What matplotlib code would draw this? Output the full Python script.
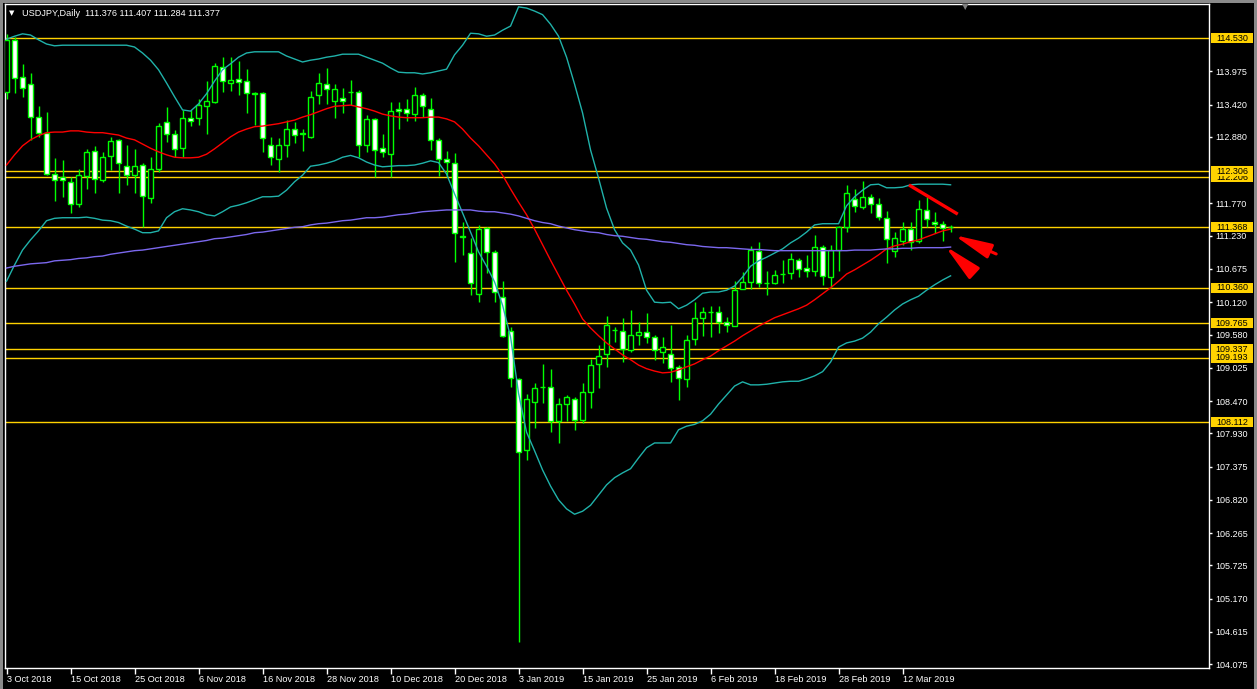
import matplotlib as mpl
mpl.use('Agg')

from matplotlib import pyplot as plt
from matplotlib.patches import Rectangle
import matplotlib.transforms as mtransforms
import numpy as np

plt.rcParams['font.family'] = ['Liberation Sans', 'DejaVu Sans']

# 日K資料 (USDJPY, 2018-10-03 起)
opens = [113.63, 114.49, 113.875, 113.757, 113.218, 112.95, 112.255, 112.21, 112.121, 111.754,
         112.232, 112.64, 112.166, 112.566, 112.828, 112.40, 112.238, 112.41, 111.854, 112.338,
         113.123, 112.923, 112.69, 113.19, 113.19, 113.40, 113.468, 114.052, 113.774, 113.84,
         113.808, 113.607, 113.607, 112.74, 112.505, 112.74, 113.017, 112.94, 112.884, 113.574,
         113.757, 113.479, 113.535, 113.63, 113.624, 112.745, 113.173, 112.69, 112.589, 113.34,
         113.34, 113.257, 113.58, 113.34, 112.828, 112.505, 112.44, 111.214, 110.936, 110.257,
         111.353, 110.953, 110.201, 109.645, 108.843, 107.652, 108.46, 108.71, 108.71, 108.137,
         108.415, 108.499, 108.153, 108.627, 109.083, 109.255, 109.656, 109.645, 109.317, 109.567,
         109.617, 109.534, 109.294, 109.25, 109.033, 108.832, 109.5, 109.85, 109.95, 109.96,
         109.795, 109.723, 110.346, 110.452, 110.98, 110.446, 110.435, 110.597, 110.602, 110.824,
         110.685, 110.635, 111.047, 110.546, 110.991, 111.381, 111.837, 111.715, 111.871, 111.754,
         111.52, 110.98, 111.142, 111.336, 111.142, 111.659, 111.453, 111.42, 111.376]
highs = [114.60, 114.54, 114.10, 113.94, 113.396, 113.29, 112.52, 112.494, 112.216, 112.34,
         112.68, 112.728, 112.633, 112.884, 112.85, 112.745, 112.672, 112.45, 112.55, 113.106,
         113.374, 112.995, 113.33, 113.33, 113.507, 113.819, 114.108, 114.22, 114.21, 114.152,
         114.008, 113.63, 113.635, 112.884, 112.856, 113.16, 113.134, 113.01, 113.646, 113.952,
         114.036, 113.763, 113.69, 113.83, 113.663, 113.245, 113.19, 112.928, 113.468, 113.468,
         113.513, 113.707, 113.607, 113.524, 112.856, 112.65, 112.605, 111.464, 111.186, 111.41,
         111.37, 110.99, 110.474, 109.71, 108.86, 108.588, 108.765, 109.088, 109.005, 108.515,
         108.571, 108.532, 108.765, 109.166, 109.405, 109.89, 109.712, 109.85, 109.99, 109.784,
         109.934, 109.573, 109.545, 109.74, 109.072, 109.573, 110.129, 110.034, 110.057, 110.057,
         109.878, 110.474, 110.63, 111.058, 111.12, 110.641, 110.657, 110.824, 110.947, 110.852,
         110.908, 111.242, 111.075, 111.075, 111.39, 112.077, 112.004, 112.143, 111.926, 111.854,
         111.643, 111.298, 111.464, 111.464, 111.826, 111.871, 111.631, 111.476, 111.407]
lows = [113.52, 113.62, 113.55, 112.83, 112.873, 112.244, 111.815, 111.88, 111.615, 111.715,
        112.005, 111.938, 112.132, 112.327, 111.949, 112.077, 111.938, 111.37, 111.77, 112.30,
        112.80, 112.55, 112.55, 113.06, 113.08, 112.928, 113.44, 113.635, 113.646, 113.574,
        113.284, 113.08, 112.633, 112.41, 112.30, 112.55, 112.772, 112.65, 112.856, 113.43,
        113.43, 113.19, 113.273, 113.41, 112.55, 112.633, 112.216, 112.55, 112.216, 113.006,
        113.145, 113.15, 113.218, 112.661, 112.227, 112.216, 110.797, 110.908, 110.24, 110.13,
        110.60, 110.13, 109.545, 108.70, 104.45, 107.485, 108.014, 108.432, 107.959, 107.764,
        108.142, 107.987, 108.109, 108.359, 108.682, 109.044, 109.461, 109.127, 109.294, 109.406,
        109.433, 109.155, 109.10, 108.794, 108.487, 108.71, 109.406, 109.562, 109.545, 109.60,
        109.628, 109.723, 110.34, 110.335, 110.38, 110.24, 110.43, 110.446, 110.507, 110.546,
        110.546, 110.557, 110.41, 110.351, 110.646, 111.298, 111.631, 111.676, 111.604, 111.492,
        110.769, 110.869, 111.075, 110.991, 111.114, 111.381, 111.27, 111.147, 111.284]
closes = [114.50, 113.86, 113.69, 113.207, 112.94, 112.255, 112.16, 112.155, 111.76, 112.238,
          112.62, 112.177, 112.54, 112.811, 112.438, 112.238, 112.389, 111.893, 112.338, 113.056,
          112.928, 112.672, 113.20, 113.15, 113.41, 113.474, 114.069, 113.819, 113.83, 113.79,
          113.607, 113.60, 112.856, 112.54, 112.74, 113.017, 112.906, 112.93, 113.552, 113.774,
          113.674, 113.674, 113.479, 113.63, 112.745, 113.173, 112.661, 112.633, 113.312, 113.312,
          113.273, 113.574, 113.396, 112.828, 112.505, 112.455, 111.27, 111.22, 110.435, 111.35,
          110.953, 110.296, 109.556, 108.86, 107.625, 108.499, 108.682, 108.71, 108.142, 108.415,
          108.532, 108.153, 108.627, 109.072, 109.228, 109.74, 109.656, 109.339, 109.567, 109.617,
          109.545, 109.322, 109.367, 109.016, 108.85, 109.489, 109.85, 109.951, 109.95, 109.795,
          109.74, 110.324, 110.452, 110.99, 110.435, 110.446, 110.574, 110.597, 110.836, 110.669,
          110.646, 111.047, 110.565, 110.991, 111.37, 111.937, 111.726, 111.871, 111.754, 111.548,
          111.17, 111.186, 111.336, 111.131, 111.67, 111.503, 111.42, 111.353, 111.377]

# 布林通道上下軌
bb_upper = [114.51, 114.56, 114.60, 114.58, 114.50, 114.43, 114.40, 114.41, 114.41, 114.41,
            114.41, 114.41, 114.41, 114.41, 114.41, 114.41, 114.38, 114.28, 114.16, 114.00,
            113.78, 113.55, 113.33, 113.31, 113.43, 113.60, 113.81, 114.00, 114.10, 114.21,
            114.28, 114.30, 114.30, 114.30, 114.30, 114.23, 114.18, 114.13, 114.16, 114.18,
            114.21, 114.23, 114.26, 114.26, 114.26, 114.21, 114.16, 114.11, 114.03, 113.96,
            113.95, 113.95, 113.93, 113.95, 113.98, 114.01, 114.25, 114.41, 114.61, 114.60,
            114.56, 114.58, 114.66, 114.73, 115.05, 115.03, 114.98, 114.92, 114.76, 114.56,
            114.21, 113.76, 113.28, 112.66, 112.19, 111.69, 111.33, 111.11, 110.99, 110.74,
            110.32, 110.12, 110.11, 110.12, 110.01, 110.07, 110.16, 110.27, 110.29, 110.29,
            110.32, 110.39, 110.54, 110.72, 110.81, 110.87, 110.94, 111.01, 111.11, 111.19,
            111.29, 111.41, 111.43, 111.43, 111.43, 111.73, 111.88, 111.99, 112.08, 112.09,
            112.03, 112.03, 112.04, 112.08, 112.09, 112.09, 112.09, 112.09, 112.08]
bb_lower = [110.47, 110.74, 110.99, 111.16, 111.31, 111.48, 111.52, 111.53, 111.53, 111.53,
            111.54, 111.52, 111.49, 111.48, 111.45, 111.39, 111.34, 111.28, 111.28, 111.31,
            111.53, 111.63, 111.68, 111.66, 111.63, 111.58, 111.56, 111.63, 111.71, 111.74,
            111.78, 111.83, 111.88, 111.88, 111.89, 111.99, 112.13, 112.24, 112.39, 112.41,
            112.44, 112.48, 112.54, 112.57, 112.53, 112.46, 112.41, 112.38, 112.39, 112.40,
            112.40, 112.41, 112.44, 112.48, 112.45, 112.26, 111.93, 111.61, 111.29, 110.96,
            110.72, 110.46, 110.07, 109.54, 108.60, 107.95, 107.64, 107.32, 107.05, 106.82,
            106.67, 106.58, 106.63, 106.73, 106.90, 107.07, 107.19, 107.27, 107.34, 107.52,
            107.69, 107.77, 107.77, 107.77, 107.99, 108.05, 108.08, 108.14, 108.25, 108.42,
            108.57, 108.72, 108.79, 108.74, 108.74, 108.75, 108.77, 108.79, 108.80, 108.80,
            108.84, 108.89, 108.96, 109.12, 109.37, 109.44, 109.47, 109.52, 109.62, 109.76,
            109.87, 109.99, 110.09, 110.16, 110.22, 110.32, 110.41, 110.49, 110.56]
# 紅色均線 (布林中軌)
ma_mid = [112.41, 112.58, 112.73, 112.83, 112.90, 112.95, 112.96, 112.96, 112.98, 112.98,
          112.96, 112.95, 112.95, 112.93, 112.91, 112.86, 112.83, 112.76, 112.69, 112.63,
          112.58, 112.54, 112.53, 112.53, 112.54, 112.59, 112.68, 112.78, 112.88, 112.96,
          113.01, 113.05, 113.06, 113.08, 113.10, 113.13, 113.16, 113.21, 113.25, 113.30,
          113.35, 113.39, 113.40, 113.41, 113.38, 113.35, 113.31, 113.26, 113.23, 113.21,
          113.20, 113.20, 113.20, 113.21, 113.21, 113.18, 113.13, 113.01, 112.86, 112.73,
          112.58, 112.43, 112.24, 112.01, 111.79, 111.58, 111.34, 111.08, 110.82, 110.57,
          110.32, 110.09, 109.84, 109.69, 109.56, 109.44, 109.34, 109.24, 109.16, 109.07,
          109.01, 108.97, 108.94, 108.95, 108.99, 109.04, 109.09, 109.16, 109.22, 109.31,
          109.39, 109.47, 109.56, 109.64, 109.72, 109.79, 109.86, 109.91, 109.96, 110.01,
          110.07, 110.16, 110.26, 110.36, 110.47, 110.59, 110.66, 110.74, 110.82, 110.91,
          111.01, 111.06, 111.09, 111.13, 111.16, 111.21, 111.26, 111.31, 111.34]
# 紫色長期均線
ma_slow = [110.69, 110.72, 110.74, 110.76, 110.77, 110.78, 110.81, 110.82, 110.83, 110.85,
           110.86, 110.88, 110.89, 110.92, 110.94, 110.96, 110.98, 110.99, 111.01, 111.03,
           111.05, 111.07, 111.09, 111.11, 111.13, 111.15, 111.18, 111.19, 111.21, 111.23,
           111.25, 111.28, 111.29, 111.31, 111.33, 111.35, 111.37, 111.38, 111.41, 111.43,
           111.44, 111.46, 111.48, 111.49, 111.51, 111.53, 111.53, 111.54, 111.56, 111.58,
           111.59, 111.61, 111.63, 111.64, 111.65, 111.66, 111.66, 111.66, 111.66, 111.64,
           111.63, 111.63, 111.61, 111.59, 111.56, 111.52, 111.48, 111.45, 111.43, 111.39,
           111.36, 111.33, 111.31, 111.29, 111.28, 111.25, 111.23, 111.22, 111.20, 111.18,
           111.17, 111.15, 111.13, 111.12, 111.10, 111.08, 111.07, 111.05, 111.04, 111.03,
           111.03, 111.02, 111.01, 111.00, 111.00, 110.99, 110.98, 110.98, 110.98, 110.98,
           110.98, 110.98, 110.98, 110.98, 110.98, 110.98, 110.99, 110.99, 110.99, 111.00,
           111.01, 111.01, 111.02, 111.02, 111.03, 111.03, 111.03, 111.03, 111.04]

# 水平線價位 (112.206 先畫, 被 112.306 蓋住一半)
levels = [114.530, 112.206, 112.306, 111.368, 110.360, 109.765, 109.337, 109.193, 108.112]
# 右側價格刻度
price_ticks = [113.975, 113.420, 112.880, 111.770, 111.230, 110.675, 110.120, 109.580, 109.025,
               108.470, 107.930, 107.375, 106.820, 106.265, 105.725, 105.170, 104.615, 104.075]
# X軸日期標籤 (每8根)
date_labels = ['3 Oct 2018', '15 Oct 2018', '25 Oct 2018', '6 Nov 2018', '16 Nov 2018',
               '28 Nov 2018', '10 Dec 2018', '20 Dec 2018', '3 Jan 2019', '15 Jan 2019',
               '25 Jan 2019', '6 Feb 2019', '18 Feb 2019', '28 Feb 2019', '12 Mar 2019']

# 手繪紅線與箭頭 (K線序號, 價格)
trend_line = [(112.8, 112.077), (118.9, 111.59)]
arrow_tails = [(123.7, 110.925), (120.8, 110.624)]
arrow_tips = [(118.4, 111.242), (117.3, 111.058)]

LIME = '#00FF00'
GOLD = '#FFD200'
W, H = 1257, 689

fig = plt.figure(figsize=(W / 100, H / 100), dpi=100, facecolor='black')
ax = fig.add_axes([5 / W, 1 - 668 / H, 1204 / W, 664 / H], facecolor='black')

x = np.arange(len(opens))
o = np.array(opens)
c = np.array(closes)

# 水平線
for p in levels:
    ax.axhline(p, color=GOLD, lw=1, zorder=1)

# K線
ax.vlines(x, lows, highs, color=LIME, lw=1, zorder=2)
face = np.where(c > o, 'black', 'white')
ax.bar(x, np.abs(c - o), bottom=np.minimum(o, c), width=0.55, color=face,
       edgecolor=LIME, linewidth=1, zorder=3)

# 指標線
ax.plot(x, bb_upper, color='#20B2AA', lw=1, zorder=4)
ax.plot(x, bb_lower, color='#20B2AA', lw=1, zorder=4)
ax.plot(x, ma_mid, color='red', lw=1, zorder=4)
ax.plot(x, ma_slow, color='#7B68EE', lw=1, zorder=4)

# 紅色標註
ax.plot([p[0] for p in trend_line], [p[1] for p in trend_line], color='red', lw=2.4,
        solid_capstyle='butt', zorder=6)
for tail, tip in zip(arrow_tails, arrow_tips):
    ax.annotate('', xy=tip, xytext=tail,
                arrowprops=dict(arrowstyle='-|>,head_length=1.9,head_width=0.38',
                                color='red', lw=2.2, mutation_scale=12,
                                shrinkA=0, shrinkB=0), zorder=6)

ax.set_xlim(-0.19, 150.3)
ax.set_ylim(104.013, 115.098)

for s in ax.spines.values():
    s.set_color('white')
    s.set_linewidth(1)

# X軸
ax.set_xticks(x[::8])
ax.set_xticklabels(date_labels)
for lab in ax.get_xticklabels():
    lab.set_horizontalalignment('left')
ax.tick_params(axis='x', colors='white', length=4, width=1, pad=1.2, labelsize=6.6)

# Y軸 (右側)
ax.yaxis.tick_right()
ax.set_yticks(price_ticks)
ax.set_yticklabels([f'{v:.3f}' for v in price_ticks])
ax.tick_params(axis='y', colors='white', length=2.2, width=1, pad=2.6, labelsize=6.5)

# 價位標籤 (後畫的蓋住先畫的)
blend = mtransforms.blended_transform_factory(ax.transAxes, ax.transData)
box_h = 10 / 59.9
for i, p in enumerate(levels):
    ax.add_patch(Rectangle((1 + 2 / 1204, p - box_h / 2), 42 / 1204, box_h, transform=blend,
                           facecolor=GOLD, edgecolor='none', clip_on=False, zorder=7 + 2 * i))
    ax.text(1 + 23 / 1204, p, f'{p:.3f}', transform=blend, ha='center', va='center',
            fontsize=6.5, color='black', clip_on=False, zorder=8 + 2 * i)

# 標題列
fig.text(9 / W, 1 - 13 / H, '\u25bc', color='white', fontsize=5, va='center',
         family=['DejaVu Sans'])
fig.text(22 / W, 1 - 13 / H,
         f'USDJPY,Daily  {opens[-1]:.3f} {highs[-1]:.3f} {lows[-1]:.3f} {closes[-1]:.3f}',
         color='white', fontsize=6.6, va='center')
fig.text(965 / W, 1 - 7 / H, '\u25bc', color='#808080', fontsize=6, ha='center', va='center',
         family=['DejaVu Sans'])

# 視窗邊框
fig.patches.append(Rectangle((0, 0), 3 / W, 1, transform=fig.transFigure,
                             facecolor='#8a8a8a', edgecolor='none'))
fig.patches.append(Rectangle((0, 1 - 3 / H), 1, 3 / H, transform=fig.transFigure,
                             facecolor='#8a8a8a', edgecolor='none'))
fig.patches.append(Rectangle((1 - 3 / W, 0), 3 / W, 1, transform=fig.transFigure,
                             facecolor='#8a8a8a', edgecolor='none'))

plt.savefig('out.png', dpi=100, facecolor='black')
plt.close()
